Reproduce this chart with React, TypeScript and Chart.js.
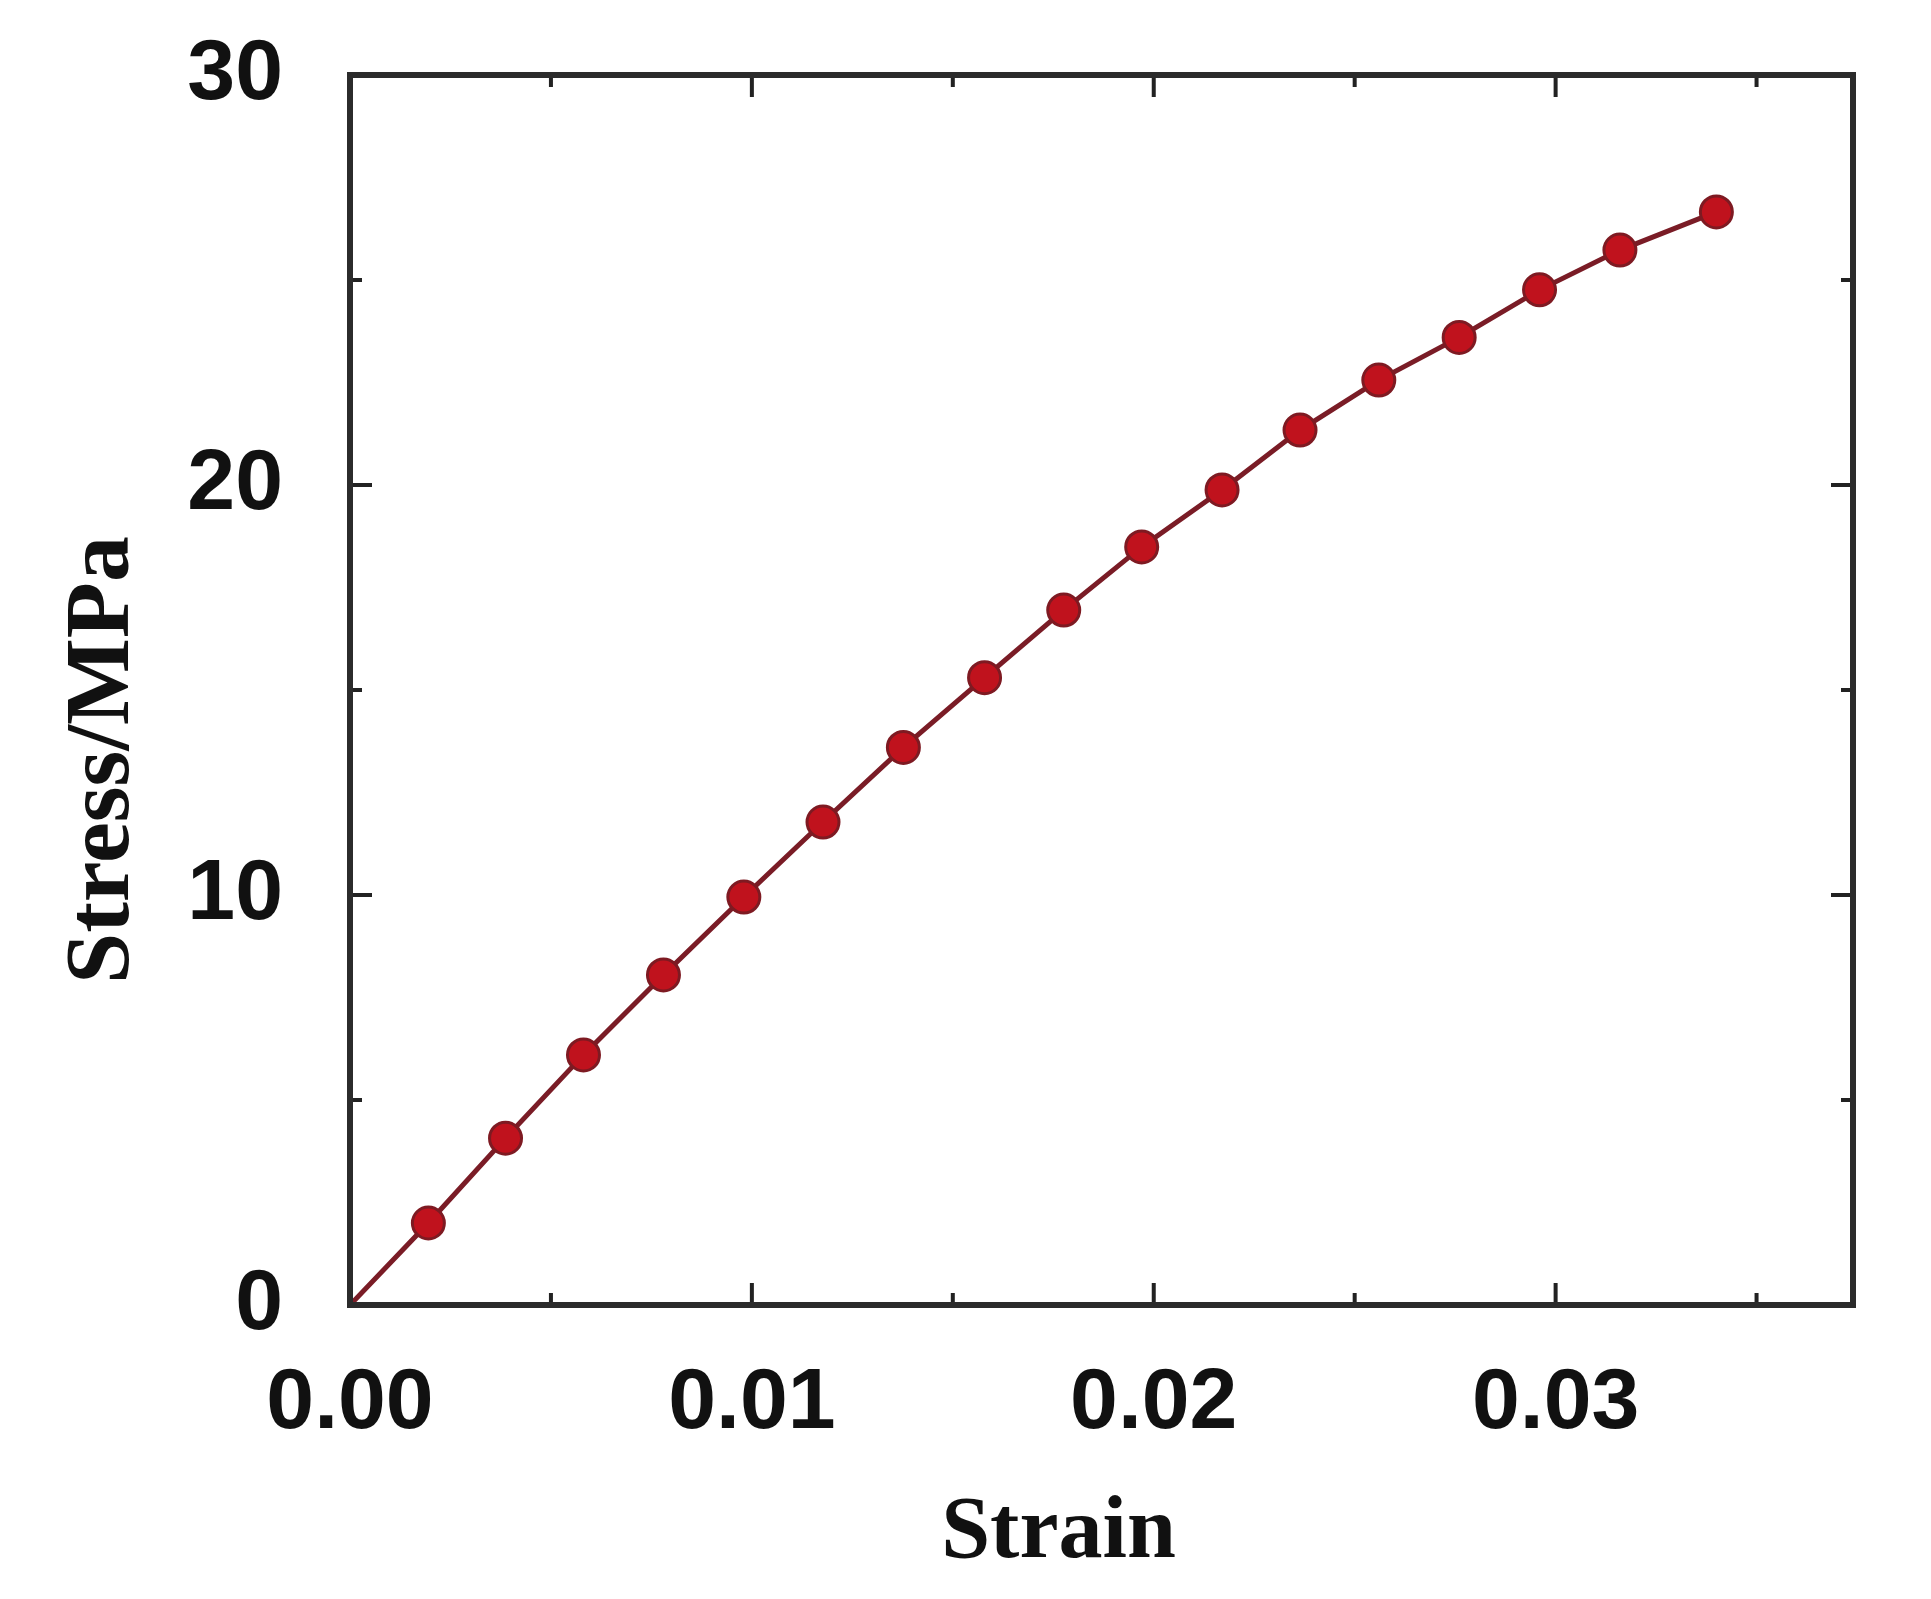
import { useEffect, useRef } from "react";
import { Chart, registerables } from "chart.js";

Chart.register(...registerables);

// ---- data ----
const strain = [0, 0.00195, 0.00387, 0.00581, 0.0078, 0.0098, 0.01177, 0.01377, 0.01579, 0.01776, 0.0197, 0.0217, 0.02364, 0.0256, 0.0276, 0.0296, 0.0316, 0.034];
const stress = [0, 2.0, 4.07, 6.1, 8.05, 9.95, 11.78, 13.6, 15.3, 16.95, 18.49, 19.88, 21.34, 22.56, 23.6, 24.76, 25.73, 26.66];

const xTickValues = [0, 0.005, 0.01, 0.015, 0.02, 0.025, 0.03, 0.035];
const xTickLabels = ["0.00", "", "0.01", "", "0.02", "", "0.03", ""];
const yTickValues = [0, 5, 10, 15, 20, 25, 30];
const yTickLabels = ["0", "", "10", "", "20", "", "30"];

const xTitle = "Strain";
const yTitle = "Stress/MPa";

const X_MIN = 0;
const X_MAX = 0.0374;
const Y_MIN = 0;
const Y_MAX = 30;

const findLabel = (vals: number[], labels: string[], v: number) => {
  const i = vals.findIndex((t) => Math.abs(t - v) < 1e-9);
  return i >= 0 ? labels[i] : "";
};

const frameTicksTitles = {
  id: "frameTicksTitles",
  afterDraw(chart: any) {
    const { ctx, chartArea, scales } = chart;
    const { left, right, top, bottom } = chartArea;
    const x = scales.x;
    const y = scales.y;
    ctx.save();
    ctx.strokeStyle = "#222222";
    ctx.lineWidth = 4;
    ctx.lineCap = "butt";
    xTickValues.forEach((v, i) => {
      const px = x.getPixelForValue(v);
      const len = xTickLabels[i] ? 22 : 12;
      ctx.beginPath();
      ctx.moveTo(px, bottom);
      ctx.lineTo(px, bottom - len);
      ctx.moveTo(px, top);
      ctx.lineTo(px, top + len);
      ctx.stroke();
    });
    yTickValues.forEach((v, i) => {
      const py = y.getPixelForValue(v);
      const len = yTickLabels[i] ? 22 : 12;
      ctx.beginPath();
      ctx.moveTo(left, py);
      ctx.lineTo(left + len, py);
      ctx.moveTo(right, py);
      ctx.lineTo(right - len, py);
      ctx.stroke();
    });
    ctx.lineWidth = 6;
    ctx.strokeStyle = "#2b2b2b";
    ctx.strokeRect(left, top, right - left, bottom - top);

    ctx.fillStyle = "#111111";
    ctx.font = 'bold 88px "Liberation Serif", "Times New Roman", serif';
    ctx.textAlign = "center";
    ctx.textBaseline = "alphabetic";
    ctx.fillText(xTitle, (left + right) / 2 - 43, bottom + 252);

    ctx.save();
    ctx.translate(left - 222, (top + bottom) / 2 + 70);
    ctx.rotate(-Math.PI / 2);
    ctx.font = 'bold 92px "Liberation Serif", "Times New Roman", serif';
    ctx.fillText(yTitle, 0, 0);
    ctx.restore();
    ctx.restore();
  },
};

export default function App() {
  const ref = useRef<HTMLCanvasElement | null>(null);

  useEffect(() => {
    if (!ref.current) return;
    const tickFont = { family: '"Liberation Sans", Arial, sans-serif', size: 86, weight: "bold" as const };
    const chart = new Chart(ref.current, {
      type: "line",
      data: {
        datasets: [
          {
            data: strain.map((s, i) => ({ x: s, y: stress[i] })),
            borderColor: "#7a1c26",
            borderWidth: 5,
            backgroundColor: "#c0121d",
            pointBackgroundColor: "#c0121d",
            pointBorderColor: "#7e1a22",
            pointBorderWidth: 3,
            pointRadius: strain.map((_, i) => (i === 0 ? 0 : 16)),
            tension: 0,
            fill: false,
          },
        ],
      },
      options: {
        animation: false,
        responsive: false,
        devicePixelRatio: 1,
        layout: { padding: { top: 67, right: 70, left: 0, bottom: 0 } },
        plugins: { legend: { display: false }, tooltip: { enabled: false } },
        scales: {
          x: {
            type: "linear",
            min: X_MIN,
            max: X_MAX,
            afterBuildTicks: (s: any) => {
              s.ticks = xTickValues.map((v) => ({ value: v }));
            },
            afterFit: (s: any) => {
              s.height = 286;
              s.paddingLeft = 0;
              s.paddingRight = 0;
              s.paddingTop = 0;
              s.paddingBottom = 0;
            },
            ticks: {
              callback: (v: any) => findLabel(xTickValues, xTickLabels, Number(v)),
              font: tickFont,
              color: "#111111",
              padding: 48,
              maxRotation: 0,
              minRotation: 0,
              autoSkip: false,
            },
            grid: { display: false, drawTicks: false },
            border: { display: false },
          },
          y: {
            type: "linear",
            min: Y_MIN,
            max: Y_MAX,
            afterBuildTicks: (s: any) => {
              s.ticks = yTickValues.map((v) => ({ value: v }));
            },
            afterFit: (s: any) => {
              s.width = 342;
              s.paddingLeft = 0;
              s.paddingRight = 0;
              s.paddingTop = 0;
              s.paddingBottom = 0;
            },
            ticks: {
              callback: (v: any) => findLabel(yTickValues, yTickLabels, Number(v)),
              font: tickFont,
              color: "#111111",
              padding: 67,
              autoSkip: false,
            },
            grid: { display: false, drawTicks: false },
            border: { display: false },
          },
        },
      },
      plugins: [frameTicksTitles],
    });
    return () => chart.destroy();
  }, []);

  return (
    <div style={{ width: 1915, height: 1583, background: "#ffffff" }}>
      <canvas ref={ref} width={1915} height={1583} style={{ display: "block" }} />
    </div>
  );
}
